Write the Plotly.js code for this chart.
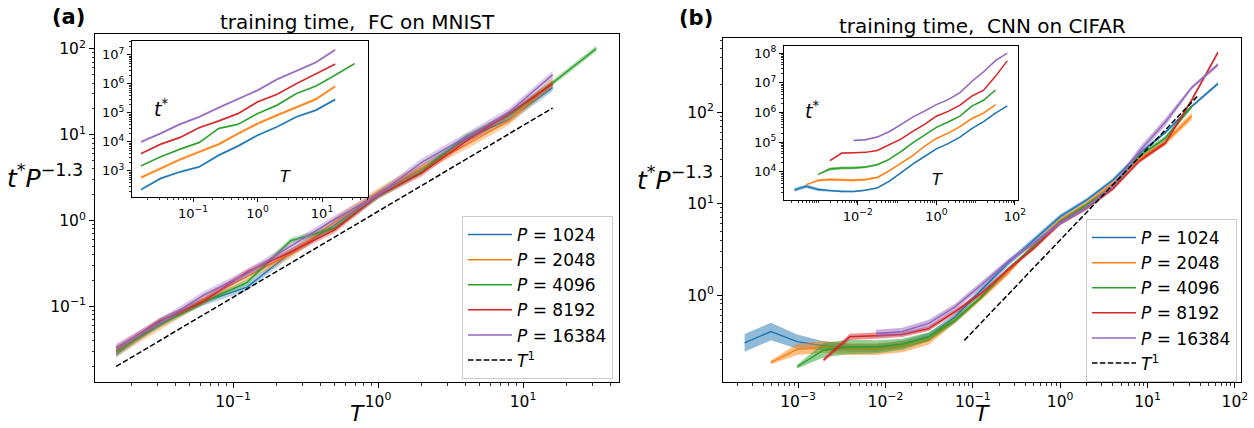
<!DOCTYPE html>
<html>
<head>
<meta charset="utf-8">
<script src="https://cdn.plot.ly/plotly-3.0.1.min.js"></script>
<style>html,body{margin:0;padding:0;background:#fff;}#plot{width:1254px;height:428px;}</style>
</head>
<body>
<div id="plot"></div>
<script>
// ---------------- DATA ----------------
const P_NAMES = ['1024', '2048', '4096', '8192', '16384'];
const COLORS = ['#1f77b4', '#ff7f0e', '#2ca02c', '#d62728', '#9467bd'];

// Panel (a): FC on MNIST — temperature values
const T_A = [0.015625, 0.03125, 0.0625, 0.125, 0.25, 0.5, 1, 2, 4, 8, 16, 32];

// main (a): t* P^-1.3
const A_MAIN_1024  = [0.0277, 0.0665, 0.113, 0.168, 0.424, 0.885, 2.06, 4.03, 8.91, 15.1, 35.4];
const A_MAIN_2048  = [0.0293, 0.0595, 0.122, 0.224, 0.411, 0.962, 2.12, 4.11, 7.54, 14.6, 41.1];
const A_MAIN_4096  = [0.030, 0.0612, 0.112, 0.191, 0.584, 0.815, 1.91, 3.70, 9.36, 16.8, 40.3, 100.7];
const A_MAIN_8192  = [0.0324, 0.0679, 0.115, 0.253, 0.432, 0.777, 1.96, 3.57, 8.34, 17.6, 39.2];
const A_MAIN_16384 = [0.0332, 0.0648, 0.135, 0.242, 0.505, 1.03, 1.99, 4.78, 9.3, 18.3, 49.8];

// inset (a): t*
const A_INS_1024  = [227, 545, 924, 1380, 3470, 7250, 16900, 33000, 73000, 124000, 290000];
const A_INS_2048  = [590, 1200, 2460, 4520, 8300, 19400, 42800, 83000, 152000, 295000, 830000];
const A_INS_4096  = [1490, 3040, 5580, 9500, 29000, 40500, 95000, 184000, 465000, 835000, 2000000, 5000000];
const A_INS_8192  = [3960, 8300, 14100, 31000, 52800, 95000, 240000, 436000, 1020000, 2150000, 4800000];
const A_INS_16384 = [10000, 19500, 40700, 73000, 152000, 311000, 600000, 1440000, 2800000, 5500000, 15000000];

// relative band half-widths (a)
const A_ERR = [0.10, 0.13, 0.08, 0.09, 0.11];

// T^1 guide (a)
const A_GUIDE_T = [0.015625, 16];
const A_GUIDE_Y = [0.02, 20.5];

// Panel (b): CNN on CIFAR — temperature values
const T_B = [0.000244140625, 0.00048828125, 0.0009765625, 0.001953125, 0.00390625, 0.0078125,
             0.015625, 0.03125, 0.0625, 0.125, 0.25, 0.5, 1, 2, 4, 8, 16, 32, 64];

// main (b): t* P^-1.3
const B_MAIN_1024  = [0.30, 0.40, 0.31, 0.28, 0.265, 0.263, 0.29, 0.35, 0.58, 1.13, 2.22, 4.0, 7.2, 10.9, 18, 35, 60, 115, 205];
const B_MAIN_2048  = [0.184, 0.255, 0.272, 0.257, 0.257, 0.272, 0.32, 0.53, 0.93, 1.73, 3.6, 6.6, 10, 16.6, 31, 47, 90];
const B_MAIN_4096  = [0.165, 0.25, 0.272, 0.272, 0.29, 0.35, 0.53, 0.96, 1.9, 3.4, 6.3, 9.6, 15.2, 33, 52, 115];
const B_MAIN_8192  = [0.195, 0.35, 0.36, 0.37, 0.43, 0.66, 1.04, 1.88, 3.25, 6.1, 8.9, 14.5, 29, 46, 135, 450];
const B_MAIN_16384 = [0.38, 0.40, 0.49, 0.745, 1.29, 2.31, 3.7, 6.1, 9, 15.5, 37, 78, 185, 330];

// inset (b): t*
const B_INS_1024  = [2460, 3280, 2540, 2290, 2170, 2150, 2380, 2870, 4750, 9260, 18200, 32800, 59000, 89300, 147000, 287000, 492000, 942000, 1680000];
const B_INS_2048  = [3710, 5140, 5490, 5180, 5180, 5490, 6460, 10700, 18800, 34900, 72600, 133000, 202000, 335000, 625000, 948000, 1820000];
const B_INS_4096  = [8200, 12400, 13500, 13500, 14400, 17400, 26300, 47700, 94400, 169000, 313000, 477000, 755000, 1640000, 2580000, 5710000];
const B_INS_8192  = [23800, 42800, 44000, 45200, 52600, 80700, 127000, 230000, 397000, 746000, 1090000, 1770000, 3550000, 5630000, 16500000, 55000000];
const B_INS_16384 = [114000, 120000, 148000, 224000, 388000, 696000, 1110000, 1840000, 2710000, 4670000, 11100000, 23500000, 55700000, 99400000];

// relative band half-widths (b)
const B_ERR_1024  = [0.25, 0.25, 0.2, 0.12, 0.1, 0.1, 0.1, 0.1, 0.08, 0.08, 0.08, 0.08, 0.06, 0.05, 0.05, 0.05, 0.04, 0.04, 0.04];
const B_ERR_2048  = [0.05, 0.15, 0.16, 0.16, 0.16, 0.15, 0.12, 0.08, 0.06, 0.06, 0.05, 0.05, 0.05, 0.05, 0.06, 0.08, 0.1];
const B_ERR_4096  = [0.05, 0.2, 0.2, 0.18, 0.15, 0.12, 0.08, 0.06, 0.05, 0.05, 0.05, 0.05, 0.05, 0.05, 0.06, 0.06];
const B_ERR_8192  = [0.05, 0.08, 0.08, 0.06, 0.06, 0.06, 0.06, 0.05, 0.05, 0.05, 0.05, 0.05, 0.05, 0.05, 0.05, 0.05];
const B_ERR_16384 = [0.1, 0.1, 0.1, 0.08, 0.08, 0.06, 0.05, 0.05, 0.05, 0.06, 0.1, 0.1, 0.05, 0.05];

// T^1 guide (b)
const B_GUIDE_T = [0.08, 37];
const B_GUIDE_Y = [0.32, 148];

// ---------------- BUILD ----------------
const W = 1254, H = 428;
const FONT = 'DejaVu Sans, sans-serif';
const MINUS = '\u2212';
function dx(a, b) { return [a / W, b / W]; }
function dy(top, bottom) { return [1 - bottom / H, 1 - top / H]; }
function rgba(hex, a) {
  const n = parseInt(hex.slice(1), 16);
  return 'rgba(' + ((n >> 16) & 255) + ',' + ((n >> 8) & 255) + ',' + (n & 255) + ',' + a + ')';
}
function pow10Labels(exps) {
  return exps.map(e => '10<sup>' + (e < 0 ? MINUS + (-e) : e) + '</sup>');
}

const traces = [];
function addSeries(xs, ys, errs, color, xa, ya, name, legendId, showLeg, alpha, lw) {
  const lo = ys.map((v, i) => v / (1 + errs[i]));
  const hi = ys.map((v, i) => v * (1 + errs[i]));
  traces.push({
    x: xs.concat(xs.slice().reverse()), y: lo.concat(hi.slice().reverse()),
    fill: 'toself', fillcolor: rgba(color, alpha), line: {width: 0, color: rgba(color, 0)},
    mode: 'lines', hoverinfo: 'skip', showlegend: false, xaxis: xa, yaxis: ya
  });
  const t = {x: xs, y: ys, mode: 'lines', line: {color: color, width: lw}, name: name,
             showlegend: showLeg, xaxis: xa, yaxis: ya};
  if (legendId) t.legend = legendId;
  traces.push(t);
}
const fill = (n, v) => new Array(n).fill(v);

// Panel (a)
const aMain = [A_MAIN_1024, A_MAIN_2048, A_MAIN_4096, A_MAIN_8192, A_MAIN_16384];
const aIns = [A_INS_1024, A_INS_2048, A_INS_4096, A_INS_8192, A_INS_16384];
aMain.forEach((ys, i) => {
  addSeries(T_A.slice(0, ys.length), ys, fill(ys.length, A_ERR[i]), COLORS[i], 'x', 'y',
            '<i>P</i> = ' + P_NAMES[i], 'legend', true, 0.35, 1.5);
});
traces.push({x: A_GUIDE_T, y: A_GUIDE_Y, mode: 'lines', line: {color: '#000', width: 1.5, dash: '5.5px,2.4px'},
             name: '<i>T</i><sup>1</sup>', legend: 'legend', showlegend: true, xaxis: 'x', yaxis: 'y'});
aIns.forEach((ys, i) => {
  addSeries(T_A.slice(0, ys.length), ys, fill(ys.length, A_ERR[i]), COLORS[i], 'x2', 'y2',
            'a' + i, null, false, 0.35, 1.5);
});

// Panel (b)
const bMain = [B_MAIN_1024, B_MAIN_2048, B_MAIN_4096, B_MAIN_8192, B_MAIN_16384];
const bIns = [B_INS_1024, B_INS_2048, B_INS_4096, B_INS_8192, B_INS_16384];
const bErr = [B_ERR_1024, B_ERR_2048, B_ERR_4096, B_ERR_8192, B_ERR_16384];
const bStart = [0, 1, 2, 3, 5];
bMain.forEach((ys, i) => {
  const xs = T_B.slice(bStart[i], bStart[i] + ys.length);
  addSeries(xs, ys, bErr[i], COLORS[i], 'x3', 'y3', '<i>P</i> = ' + P_NAMES[i], 'legend2', true, 0.5, 1.5);
});
traces.push({x: B_GUIDE_T, y: B_GUIDE_Y, mode: 'lines', line: {color: '#000', width: 1.5, dash: '5.5px,2.4px'},
             name: '<i>T</i><sup>1</sup>', legend: 'legend2', showlegend: true, xaxis: 'x3', yaxis: 'y3'});
bIns.forEach((ys, i) => {
  const xs = T_B.slice(bStart[i], bStart[i] + ys.length);
  addSeries(xs, ys, bErr[i].map(e => e * 0.6), COLORS[i], 'x4', 'y4', 'b' + i, null, false, 0.5, 1.5);
});

function ax(domain, range, exps, anchor, size, ticklen) {
  return {
    domain: domain, type: 'log', range: range, anchor: anchor,
    showgrid: false, zeroline: false, showline: true, linecolor: '#000', linewidth: 1, mirror: true,
    ticks: 'outside', ticklen: ticklen, tickwidth: 1, tickcolor: '#000',
    tickmode: 'array', tickvals: exps.map(e => Math.pow(10, e)), ticktext: pow10Labels(exps),
    tickfont: {family: FONT, size: size, color: '#000'},
    minor: {ticks: 'outside', ticklen: ticklen * 0.5, tickwidth: 0.8, tickcolor: '#000', dtick: 'D1', showgrid: false}
  };
}

const legendBase = {
  xanchor: 'left', yanchor: 'top', bgcolor: 'rgba(255,255,255,0.85)', bordercolor: '#cccccc', borderwidth: 1,
  itemwidth: 44, font: {family: FONT, size: 17, color: '#000'}
};

const annFont = (s, extra) => Object.assign({family: FONT, size: s, color: '#000'}, extra || {});
const ann = (x, y, text, size, opts) => Object.assign({
  xref: 'paper', yref: 'paper', x: x / W, y: 1 - y / H, text: text, showarrow: false,
  xanchor: 'center', yanchor: 'middle', font: annFont(size)
}, opts || {});

const layout = {
  width: W, height: H, margin: {l: 0, r: 0, t: 0, b: 0},
  paper_bgcolor: '#fff', plot_bgcolor: '#fff', showlegend: true,
  xaxis: ax(dx(95, 619), [-1.952, 1.662], [-1, 0, 1], 'y', 15.5, 5),
  yaxis: ax(dy(34, 382), [-1.88, 2.174], [-1, 0, 1, 2], 'x', 15.5, 5),
  xaxis2: ax(dx(132, 368), [-1.946, 1.713], [-1, 0, 1], 'y2', 13, 4),
  yaxis2: ax(dy(41, 197), [2.10, 7.48], [3, 4, 5, 6, 7], 'x2', 13, 4),
  xaxis3: ax(dx(723, 1241), [-3.86, 2.07], [-3, -2, -1, 0, 1, 2], 'y3', 15.5, 5),
  yaxis3: ax(dy(38, 382), [-0.95, 2.81], [0, 1, 2], 'x3', 15.5, 5),
  xaxis4: ax(dx(784, 1018), [-3.88, 2.08], [-2, 0, 2], 'y4', 13, 4),
  yaxis4: ax(dy(46, 200), [3.05, 8.24], [4, 5, 6, 7, 8], 'x4', 13, 4),
  legend: Object.assign({x: 462 / W, y: 1 - 216 / H}, legendBase),
  legend2: Object.assign({x: 1086 / W, y: 1 - 219 / H}, legendBase),
  annotations: [
    ann(68, 17, '<b>(a)</b>', 21),
    ann(696, 18, '<b>(b)</b>', 21),
    ann(357, 22, 'training time,\u00a0 FC on MNIST', 20),
    ann(982, 26, 'training time,\u00a0 CNN on CIFAR', 20),
    ann(357, 427, '<i>T</i>', 22, {yanchor: 'bottom', borderpad: 0}),
    ann(982, 427, '<i>T</i>', 22, {yanchor: 'bottom', borderpad: 0}),
    ann(45, 176, '<i>t</i><sup>*</sup><i>P</i><sup>' + MINUS + '1.3</sup>', 25),
    ann(675, 178, '<i>t</i><sup>*</sup><i>P</i><sup>' + MINUS + '1.3</sup>', 25),
    ann(161, 108, '<i>t</i><sup>*</sup>', 19),
    ann(285, 177, '<i>T</i>', 16),
    ann(812, 110, '<i>t</i><sup>*</sup>', 19),
    ann(937, 179, '<i>T</i>', 16)
  ]
};

Plotly.newPlot('plot', traces, layout, {staticPlot: true, displayModeBar: false});
</script>
</body>
</html>
